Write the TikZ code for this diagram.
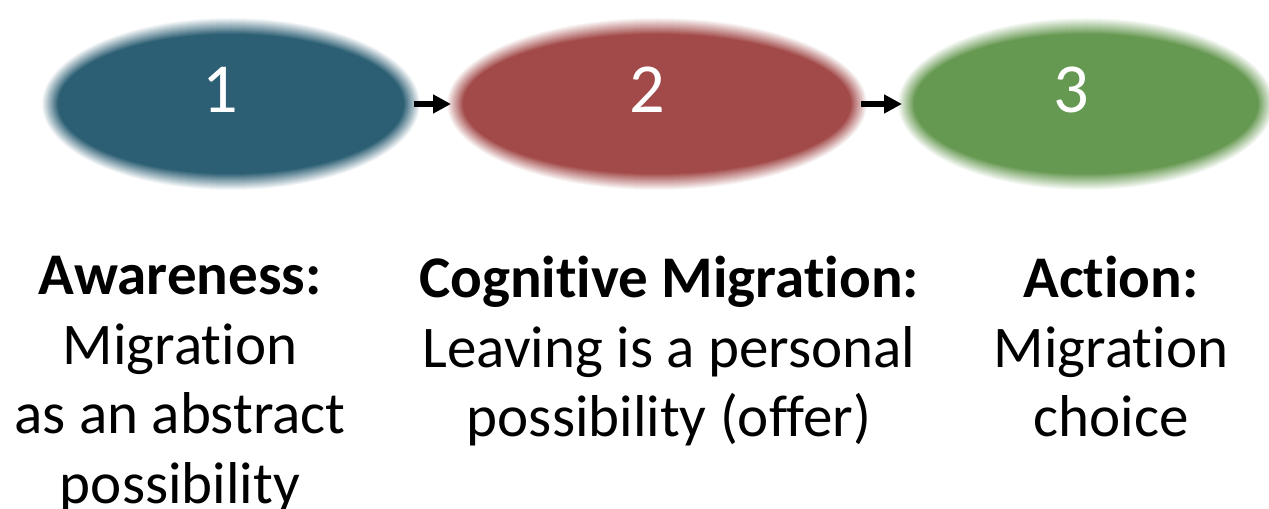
\documentclass[tikz,border=0pt]{standalone}
\usepackage{fontspec}
\setmainfont{Carlito}[Ligatures=NoCommon]
\usetikzlibrary{positioning,arrows.meta,shapes.geometric,backgrounds}
\definecolor{stageblue}{HTML}{2C5F74}
\definecolor{stagered}{HTML}{A24A49}
\definecolor{stagegreen}{HTML}{659850}
\tikzset{
  stage/.style={ellipse, inner sep=0pt, outer sep=0pt, minimum height=3.9cm},
  num/.style={text=white, inner sep=0pt, font=\fontsize{50}{60}\selectfont},
  caption/.style={align=center, inner sep=0pt, font=\fontsize{42}{49.5}\selectfont},
  connect/.style={-{Triangle[length=0.45cm,width=0.45cm]}, line width=0.15cm, shorten <=0.05cm, shorten >=0.1cm}
}
% soft edged fill behind a stage node: node, colour, x radius, y radius
\newcommand{\softfill}[4]{%
  \foreach \k [evaluate=\k as \p using {int(100*\k/17)}] in {1,...,16}
    \fill[#2!\p!white] (#1.center) ellipse [x radius={#3+0.2-0.025*(\k-1)}, y radius={#4+0.2-0.025*(\k-1)}];
  \fill[#2] (#1.center) ellipse [x radius={#3-0.2}, y radius={#4-0.2}];
}

\begin{document}
\begin{tikzpicture}
    \useasboundingbox (0,0) rectangle (31.725,12.7);
    \node[stage, minimum width=9.05cm] (S1) at (5.775,10.1) {};
    \node[stage, minimum width=10.1cm] (S2) [right=1.075cm of S1] {};
    \node[stage, minimum width=9cm] (S3) [right=1.175cm of S2] {};
    \node[num, xshift=-0.275cm, yshift=0.36cm] (N1) at (S1.center) {1};
    \node[num, xshift=-0.25cm, yshift=0.36cm] (N2) at (S2.center) {2};
    \node[num, xshift=-0.375cm, yshift=0.36cm] (N3) at (S3.center) {3};
    \begin{scope}[on background layer]
      \softfill{S1}{stageblue}{4.525}{1.95}
      \softfill{S2}{stagered}{5.05}{1.95}
      \softfill{S3}{stagegreen}{4.5}{1.95}
    \end{scope}

    \path (S1) edge [connect] (S2)
          (S2) edge [connect] (S3);

    \node[caption, below=1.85cm of S1, xshift=-1.275cm] (C1)
        {\textbf{Awareness:}\\Migration\\as an abstract\\possibility};
    \node[caption, below=1.85cm of S2, xshift=0.3cm] (C2)
        {\textbf{Cognitive Migration:}\\Leaving is a personal\\possibility (offer)};
    \node[caption, below=1.85cm of S3, xshift=0.625cm] (C3)
        {\textbf{Action:}\\Migration\\choice};
\end{tikzpicture}
\end{document}
